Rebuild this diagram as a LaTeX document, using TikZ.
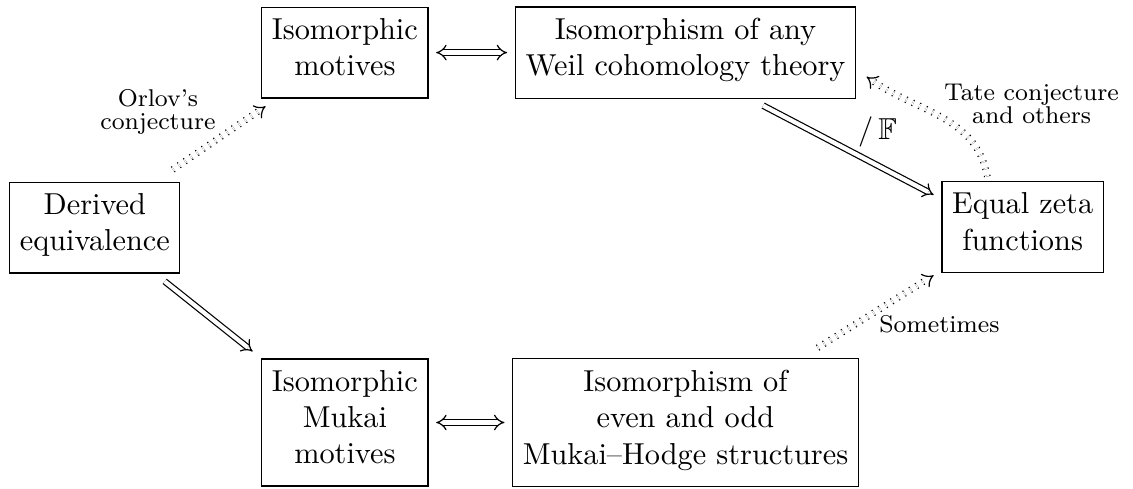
\documentclass[tikz,border=0pt]{standalone}
\usepackage{amssymb}
\usetikzlibrary{arrows.meta}
\begin{document}
\begin{tikzpicture}[auto]
\tikzstyle{box}=[draw,align=center,inner ysep=3.7pt,execute at begin node=\strut,execute at end node=\strut]
\tikzstyle{imp}=[double,double distance=1.4pt,-Implies]
\tikzstyle{iff}=[double,double distance=1.4pt,Implies-Implies]
\tikzstyle{dimp}=[imp,dotted]
\tikzstyle{lbl}=[font=\fontsize{8}{7.5}\selectfont,align=center]
\useasboundingbox (0,0) rectangle (13.14,5.67);
  \foreach \place/\name/\txt in {{(1.10,3.03)/derived/{Derived\\equivalence}},
                                 {(4.00,5.06)/motives/{Isomorphic\\motives}},
                                 {(7.95,5.06)/weil/{Isomorphism of any\\Weil cohomology theory}},
                                 {(11.86,3.04)/zeta/{Equal zeta\\functions}},
                                 {(4.00,0.77)/mukai/{Isomorphic\\Mukai\\motives}},
                                 {(7.95,0.77)/hodge/{Isomorphism of\\even and odd\\Mukai--Hodge structures}}}
    \node[box] (\name) at \place {\txt};
  \foreach \source/\dest in {motives/weil,mukai/hodge}
      \draw[iff,shorten <=2.5pt,shorten >=2.5pt] (\source) -- (\dest);
  \draw[dimp] ([shift={(-0.09,0.14)}]derived.north east) -- node[lbl,anchor=south east,inner sep=1pt] {Orlov's\\conjecture} ([shift={(0.05,-0.09)}]motives.south west);
  \draw[imp] ([shift={(0.81,-0.09)}]derived.south) -- ([shift={(-0.10,0.08)}]mukai.north west);
  \draw[imp] ([shift={(0.90,-0.08)}]weil.south) -- node[anchor=south west,inner sep=1pt,xshift=2pt] {$/\,\mathbb{F}$} ([shift={(-0.09,0.37)}]zeta.west);
  \draw[dimp] ([shift={(-0.41,0.05)}]zeta.north) to[out=100,in=-35] node[lbl,pos=0.6,anchor=west,xshift=2pt,yshift=2pt] {Tate conjecture\\and others} ([shift={(0.12,-0.28)}]weil.east);
  \draw[dimp] ([shift={(-0.48,0.12)}]hodge.north east) -- node[lbl,anchor=north west,inner sep=1pt] {Sometimes} ([shift={(-0.09,-0.03)}]zeta.south west);
\end{tikzpicture}
\end{document}
